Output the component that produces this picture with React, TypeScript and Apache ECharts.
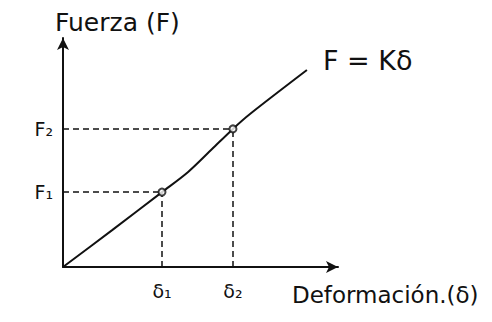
import React, { useEffect, useRef } from "react";
import * as echarts from "echarts";

// Curve points (deformation, force)
const curveX = [0, 1.8, 3.6, 4.55, 5.42, 6.18, 6.8, 8.87];
const curveY = [0, 1.62, 3.27, 4.15, 5.15, 6.03, 6.68, 8.6];
// Marked points
const deltaVals = [3.6, 6.18];
const forceVals = [3.27, 6.03];
const deltaLabels = ["δ₁", "δ₂"];
const forceLabels = ["F₁", "F₂"];

const FONT = "'DejaVu Sans', sans-serif";

export default function App() {
  const ref = useRef<HTMLDivElement>(null);
  useEffect(() => {
    if (!ref.current) return;
    const chart = echarts.init(ref.current, undefined, { renderer: "svg" });
    const hLines = deltaVals.map((d, i) => [
      { coord: [0, forceVals[i]], label: { show: true, position: "start", formatter: forceLabels[i], distance: 10, fontSize: 19 } },
      { coord: [d, forceVals[i]] },
    ]);
    const vLines = deltaVals.map((d, i) => [
      { coord: [d, 0], label: { show: true, position: "start", formatter: deltaLabels[i], distance: 14, fontSize: 19 } },
      { coord: [d, forceVals[i]] },
    ]);
    chart.setOption({
      animation: false,
      backgroundColor: "#ffffff",
      grid: { left: 63, right: 154, top: 38, bottom: 55 },
      xAxis: {
        type: "value",
        min: 0,
        max: 10,
        axisLine: { show: true, symbol: ["none", "arrow"], symbolSize: [9, 12], lineStyle: { color: "#111", width: 2 } },
        axisTick: { show: false },
        axisLabel: { show: false },
        splitLine: { show: false },
      },
      yAxis: {
        type: "value",
        min: 0,
        max: 10,
        axisLine: { show: true, symbol: ["none", "arrow"], symbolSize: [9, 12], lineStyle: { color: "#111", width: 2 } },
        axisTick: { show: false },
        axisLabel: { show: false },
        splitLine: { show: false },
      },
      series: [
        {
          type: "line",
          data: curveX.map((x, i) => [x, curveY[i]]),
          smooth: 0.3,
          showSymbol: false,
          lineStyle: { color: "#111", width: 2 },
          z: 3,
          markLine: {
            silent: true,
            symbol: ["none", "none"],
            lineStyle: { color: "#111", width: 1.5, type: [6, 4] },
            label: { color: "#111", fontFamily: FONT },
            data: [...hLines, ...vLines],
          },
        },
        {
          type: "scatter",
          data: deltaVals.map((d, i) => [d, forceVals[i]]),
          symbol: "circle",
          symbolSize: 7,
          itemStyle: { color: "#fff", borderColor: "#111", borderWidth: 2 },
          z: 5,
        },
      ],
      graphic: [
        { type: "text", left: 55, top: 10, style: { text: "Fuerza (F)", fontSize: 25, fontFamily: FONT, fill: "#111" } },
        { type: "text", left: 323, top: 47, style: { text: "F = Kδ", fontSize: 27, fontFamily: FONT, fill: "#111" } },
        { type: "text", left: 292, top: 283, style: { text: "Deformación.(δ)", fontSize: 23, fontFamily: FONT, fill: "#111" } },
      ],
    });
    return () => chart.dispose();
  }, []);
  return <div ref={ref} style={{ position: "absolute", left: 0, top: 0, width: 492, height: 322 }} />;
}
